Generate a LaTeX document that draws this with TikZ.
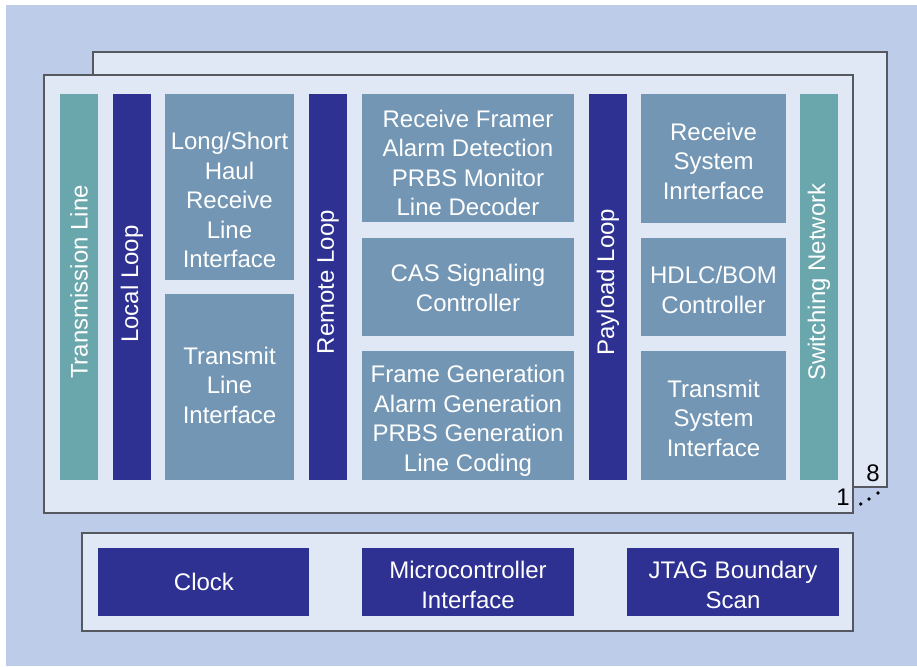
\documentclass[tikz,border=0pt]{standalone}
\usepackage{fontspec}
\setmainfont{Liberation Sans}
\definecolor{bgblue}{HTML}{BDCDE9}
\definecolor{panel}{HTML}{E1E8F5}
\definecolor{teal}{HTML}{6AA7AC}
\definecolor{navy}{HTML}{2E3192}
\definecolor{steel}{HTML}{7396B4}
\definecolor{edge}{HTML}{55585E}
\tikzset{
  panelbox/.style={draw=edge, line width=1.2pt, fill=panel},
  blk/.style={inner sep=0pt, text=white, font=\fontsize{24}{29.5}\selectfont, align=center},
  vtext/.style={text=white, font=\fontsize{24}{28}\selectfont, rotate=90, inner sep=0pt},
  lbl/.style={font=\fontsize{24}{28}\selectfont, inner sep=0pt},
}
\begin{document}
\begin{tikzpicture}[x=1pt,y=-1pt]
\useasboundingbox (0,0) rectangle (917,666);
\fill[white] (0,0) rectangle (917,666);
\fill[bgblue] (6,5) rectangle (917,666);
% panels
\draw[panelbox] (93,52) rectangle (887,487);
\draw[panelbox] (44,75) rectangle (853,513);
\draw[panelbox] (82,533) rectangle (853,631);
% columns
\fill[teal] (60,94) rectangle (98,480);
\node[vtext] (tl) at (79,282) {Transmission Line};
\fill[navy] (113,94) rectangle (151,480);
\node[vtext] (ll) at (132,284) {Local Loop};
\fill[steel] (165,94) rectangle (294,280);
\node[blk] (lsh) at (229.5,200) {Long/Short\\Haul\\Receive\\Line\\Interface};
\fill[steel] (165,294) rectangle (294,480);
\node[blk] (tli) at (229.5,385) {Transmit\\Line\\Interface};
\fill[navy] (309,94) rectangle (347,480);
\node[vtext] (rl) at (328,282) {Remote Loop};
\fill[steel] (362,94) rectangle (574,222);
\node[blk] (rf) at (468,163) {Receive Framer\\Alarm Detection\\PRBS Monitor\\Line Decoder};
\fill[steel] (362,238) rectangle (574,336);
\node[blk] (cas) at (468,288) {CAS Signaling\\Controller};
\fill[steel] (362,351) rectangle (574,480);
\node[blk] (fg) at (468,421) {Frame Generation\\Alarm Generation\\PRBS Generation\\Line Coding};
\fill[navy] (589,94) rectangle (627,480);
\node[vtext] (pl) at (608,282) {Payload Loop};
\fill[steel] (641,94) rectangle (786,223);
\node[blk] (rsi) at (713.5,161) {Receive\\System\\Inrterface};
\fill[steel] (641,238) rectangle (786,336);
\node[blk] (hdlc) at (713.5,290) {HDLC/BOM\\Controller};
\fill[steel] (641,351) rectangle (786,480);
\node[blk] (tsi) at (713.5,418) {Transmit\\System\\Interface};
\fill[teal] (800,94) rectangle (838,480);
\node[vtext] (sn) at (819,282) {Switching Network};
% labels 1 ... 8
\node[lbl, anchor=base] (one) at (843,505) {1};
\node[lbl, anchor=base] (eight) at (873,481) {8};
\fill (860.7,504) circle (1.8);
\fill (869,499) circle (1.8);
\fill (878,493) circle (1.8);
% bottom
\fill[navy] (98,548) rectangle (309,616);
\node[blk] (clk) at (204,582) {Clock};
\fill[navy] (362,548) rectangle (574,616);
\node[blk] (mc) at (468,585) {Microcontroller\\Interface};
\fill[navy] (627,548) rectangle (839,616);
\node[blk] (jtag) at (733,585) {JTAG Boundary\\Scan};
\end{tikzpicture}
\end{document}
